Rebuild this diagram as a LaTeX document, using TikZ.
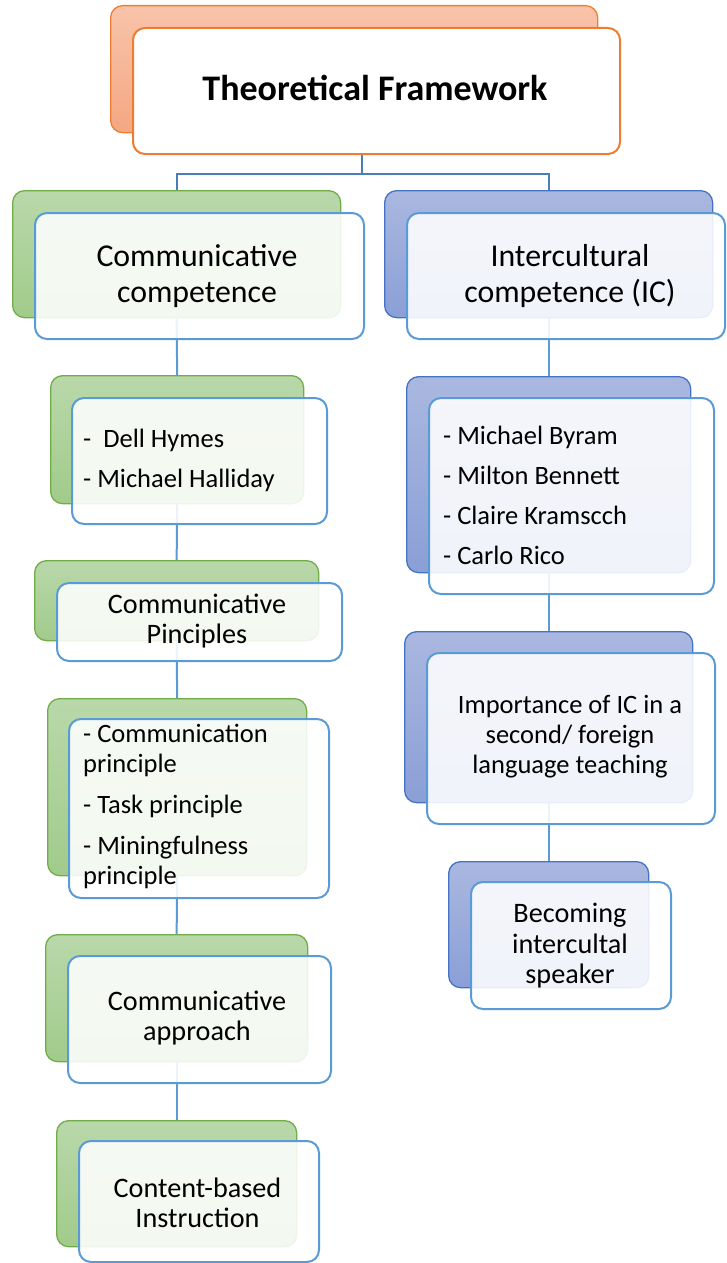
\documentclass[tikz,border=0pt]{standalone}
\usepackage{fontspec}
\setmainfont{Carlito}
\usetikzlibrary{backgrounds}
\definecolor{gLine}{HTML}{70AD47}
\definecolor{gTop}{HTML}{B9D8AA}
\definecolor{gBot}{HTML}{A1CB8B}
\definecolor{bLine}{HTML}{4472C4}
\definecolor{bTop}{HTML}{AAB8E0}
\definecolor{bBot}{HTML}{8A9FD6}
\definecolor{oLine}{HTML}{ED7D31}
\definecolor{oTop}{HTML}{F8C4AA}
\definecolor{oBot}{HTML}{F4A782}
\definecolor{fLine}{HTML}{5B9BD5}
\definecolor{cTop}{HTML}{4A7EBB}
\definecolor{cLow}{HTML}{5B9BD5}
\tikzset{
  boxbase/.style={anchor=north west, inner sep=0pt, rounded corners=12pt},
  backG/.style={boxbase, draw=gLine, line width=1.3pt, top color=gTop, bottom color=gBot},
  backB/.style={boxbase, draw=bLine, line width=1.3pt, top color=bTop, bottom color=bBot},
  backO/.style={boxbase, draw=oLine, line width=1.3pt, top color=oTop, bottom color=oBot},
  frontbox/.style={boxbase, draw=fLine, line width=2pt, fill=white, fill opacity=0.88, draw opacity=1},
  frontO/.style={boxbase, draw=oLine, line width=2pt, fill=white},
  lvlone/.style={font=\fontsize{31.8}{36}\selectfont, align=center, inner sep=0pt},
  lvltwo/.style={font=\fontsize{26.5}{30}\selectfont, align=center, inner sep=0pt},
  lvlthree/.style={font=\fontsize{28.2}{30.5}\selectfont, align=center, inner sep=0pt},
  lvllist/.style={font=\fontsize{26.5}{30}\selectfont, align=left, inner sep=0pt, anchor=west},
  conTop/.style={draw=cTop, line width=2pt},
  conLow/.style={draw=cLow, line width=2pt},
}
\newcommand{\boxat}[6]{\node[#1, minimum width=#5-#3, minimum height=#6-#4] (#2) at (#3,#4) {};}
\begin{document}
\begin{tikzpicture}[x=1pt,y=-1pt]
\useasboundingbox (0,0) rectangle (726,1263);
% title
\boxat{backO}{tB}{110}{5}{597}{132}
\boxat{frontO}{tF}{132}{27}{619}{153}
\node[font=\fontsize{36}{40}\selectfont\bfseries, inner sep=0pt] (tT) at (375,88) {Theoretical Framework};
% left column back boxes
\boxat{backG}{ccB}{12}{190}{340}{317}
\boxat{backG}{dhB}{50}{375}{303}{503}
\boxat{backG}{cpB}{34}{560}{318}{640}
\boxat{backG}{plB}{47}{698}{306}{875}
\boxat{backG}{caB}{45}{934}{307}{1061}
\boxat{backG}{cbB}{56}{1120}{296}{1246}
% right column back boxes
\boxat{backB}{icB}{384}{190}{712}{317}
\boxat{backB}{mbB}{406}{376}{690}{572}
\boxat{backB}{imB}{404}{631}{692}{802}
\boxat{backB}{beB}{448}{861}{648}{987}
% connectors
\begin{scope}[on background layer]
\coordinate (jn) at (tF.south -| 362,0);
\draw[conTop] (jn) -- ++(0,19) coordinate (jm);
\draw[conTop] (ccB.north) |- (jm) -| (icB.north);
\draw[conLow] (ccB.south) -- (dhB.north);
\draw[conLow] (dhB.south) -- (cpB.north);
\draw[conLow] (cpB.south) -- (plB.north);
\draw[conLow] (plB.south) -- (caB.north);
\draw[conLow] (caB.south) -- (cbB.north);
\draw[conLow] (icB.south) -- (mbB.north);
\draw[conLow] (mbB.south) -- (imB.north);
\draw[conLow] (imB.south) -- (beB.north);
\end{scope}
% front boxes
\boxat{frontbox}{ccF}{34}{212}{363}{338}
\boxat{frontbox}{dhF}{71}{397}{326}{523}
\boxat{frontbox}{cpF}{56}{582}{341}{660}
\boxat{frontbox}{plF}{68}{718}{328}{897}
\boxat{frontbox}{caF}{67}{955}{330}{1082}
\boxat{frontbox}{cbF}{78}{1140}{318}{1261}
\boxat{frontbox}{icF}{406}{212}{724}{338}
\boxat{frontbox}{mbF}{428}{397}{713}{593}
\boxat{frontbox}{imF}{426}{652}{714}{823}
\boxat{frontbox}{beF}{470}{881}{670}{1008}
% texts
\node[lvlone] (ccT) at (197,276) {Communicative\\competence};
\node[lvlone] (icT) at (570,276) {Intercultural\\competence (IC)};
\node[lvllist] (dhT) at (83,460) {-~ Dell Hymes\\[10pt]- Michael Halliday};
\node[lvlthree] (cpT) at (197,621) {Communicative\\Pinciples};
\node[lvllist] (plT) at (83,806) {- Communication\\principle\\[11pt]- Task principle\\[11pt]- Miningfulness\\principle};
\node[lvlthree] (caT) at (197,1018) {Communicative\\approach};
\node[lvlthree] (cbT) at (197.5,1203) {Content-based\\Instruction};
\node[lvllist] (mbT) at (443,495) {- Michael Byram\\[10pt]- Milton Bennett\\[10pt]- Claire Kramscch\\[10pt]- Carlo Rico};
\node[lvltwo] (imT) at (570,737) {Importance of IC in a\\second/ foreign\\language teaching};
\node[lvlthree] (beT) at (570,946) {Becoming\\intercultal\\speaker};
\end{tikzpicture}
\end{document}
